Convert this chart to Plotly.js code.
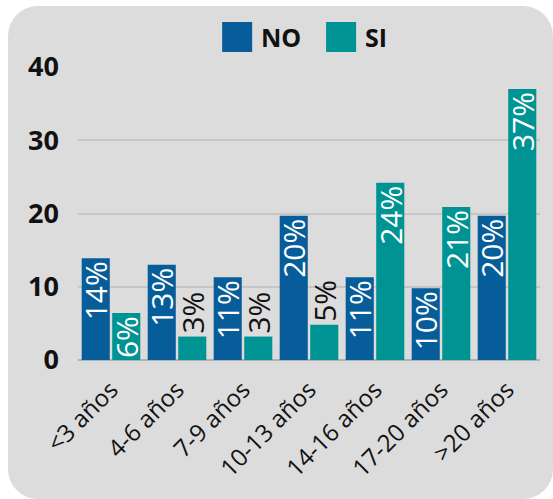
<!DOCTYPE html>
<html>
<head>
<meta charset="utf-8">
<script src="https://cdn.plot.ly/plotly-3.0.1.min.js"></script>
<style>
html,body{margin:0;padding:0;background:#ffffff;width:553px;height:499px;overflow:hidden;}
#panel{position:absolute;left:8px;top:6px;width:545px;height:493px;border-radius:30px;background:#dcdcdc;overflow:hidden;}
#chart{position:absolute;left:0;top:0;width:545px;height:493px;}
</style>
</head>
<body>
<div id="panel"><div id="chart"></div></div>
<script>
const categories = ['<3 años','4-6 años','7-9 años','10-13 años','14-16 años','17-20 años','>20 años'];
const noValues = [13.9, 13.0, 11.3, 19.7, 11.3, 9.8, 19.7];
const siValues = [6.4, 3.2, 3.2, 4.8, 24.2, 20.9, 37.0];
const seriesNames = ['NO', 'SI'];
const yTicks = [0, 10, 20, 30, 40];

const colorNO = '#075d9a';
const colorSI = '#009393';
const fontFam = '"Open Sans", "DejaVu Sans", sans-serif';

function pct(v){ return Math.round(v) + '%'; }
function pos(v){ return v < 6 ? 'outside' : 'inside'; }

function makeTrace(name, vals, color){
  return {
    type: 'bar', name: name, x: categories, y: vals,
    marker: {color: color},
    text: vals.map(pct),
    textposition: vals.map(pos),
    textangle: -90,
    insidetextanchor: 'end',
    constraintext: 'none',
    insidetextfont: {color: '#ffffff', size: 30, family: fontFam, weight: 500},
    outsidetextfont: {color: '#111111', size: 30, family: fontFam, weight: 500},
    cliponaxis: false,
    hoverinfo: 'skip',
    showlegend: false
  };
}

const data = [
  makeTrace(seriesNames[0], noValues, colorNO),
  makeTrace(seriesNames[1], siValues, colorSI)
];

const layout = {
  width: 545, height: 493,
  margin: {l: 70, r: 13, t: 61, b: 139},
  paper_bgcolor: 'rgba(0,0,0,0)',
  plot_bgcolor: 'rgba(0,0,0,0)',
  barmode: 'group',
  bargap: 0.075,
  bargroupgap: 0.08,
  font: {family: fontFam, color: '#111111'},
  xaxis: {
    tickangle: -45,
    tickfont: {size: 24, family: fontFam, color: '#111111', weight: 500},
    showgrid: false, showline: false, ticks: '', ticklabelstandoff: 10, fixedrange: true
  },
  yaxis: {
    range: [0, 40],
    tickvals: yTicks,
    tickfont: {size: 27, family: fontFam, color: '#111111', weight: 700},
    showgrid: true, gridcolor: '#c6c6c6', gridwidth: 2,
    zeroline: true, zerolinecolor: '#a9b4bf', zerolinewidth: 2,
    ticks: '', ticklabelstandoff: 18, fixedrange: true
  },
  shapes: [
    {type: 'rect', xref: 'paper', yref: 'paper', x0: 0.312, x1: 0.377, y0: 1.051, y1: 1.154, fillcolor: colorNO, line: {width: 0}},
    {type: 'rect', xref: 'paper', yref: 'paper', x0: 0.537, x1: 0.602, y0: 1.051, y1: 1.154, fillcolor: colorSI, line: {width: 0}}
  ],
  annotations: [
    {xref: 'paper', yref: 'paper', x: 0.392, y: 1.102, xanchor: 'left', yanchor: 'middle', text: seriesNames[0], showarrow: false, font: {size: 25, family: fontFam, color: '#111111', weight: 700}},
    {xref: 'paper', yref: 'paper', x: 0.617, y: 1.102, xanchor: 'left', yanchor: 'middle', text: seriesNames[1], showarrow: false, font: {size: 25, family: fontFam, color: '#111111', weight: 700}}
  ]
};

Plotly.newPlot('chart', data, layout, {displayModeBar: false, staticPlot: true});
</script>
</body>
</html>
